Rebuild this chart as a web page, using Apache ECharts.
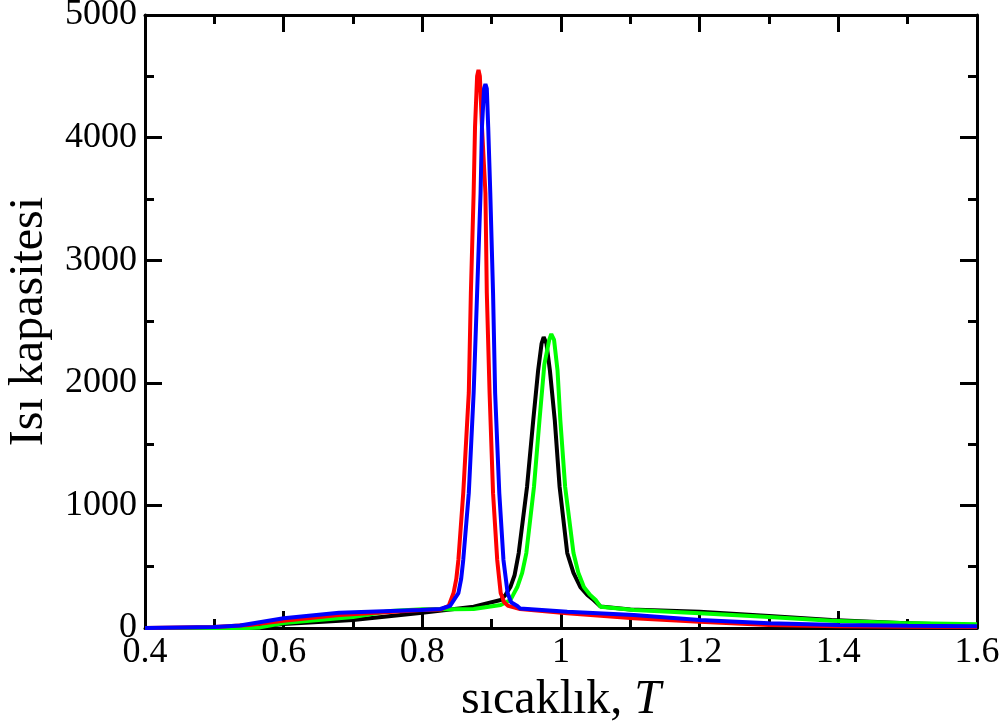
<!DOCTYPE html>
<html lang="tr">
<head>
    <meta charset="UTF-8">
    <title>Isı kapasitesi</title>
    <script src="https://cdn.jsdelivr.net/npm/echarts@6/dist/echarts.min.js"></script>
    <style>
        html, body { margin: 0; padding: 0; background: #fff; }
    </style>
</head>
<body>
<div id="chart" style="width: 1008px;height: 722px"></div>
<script type="text/javascript">
    // sıcaklık (T) ve ısı kapasitesi değerleri
    var blackT = [0.40, 0.50, 0.556, 0.60, 0.70, 0.80, 0.874, 0.913, 0.920, 0.927, 0.933, 0.939, 0.951, 0.960, 0.967, 0.972, 0.975, 0.979, 0.984, 0.991, 0.998, 1.009, 1.018, 1.028, 1.038, 1.047, 1.057, 1.10, 1.20, 1.30, 1.39, 1.49, 1.58, 1.60];
    var blackC = [0, 0, 5, 33, 65, 125, 174, 228, 270, 334, 430, 611, 1150, 1697, 2100, 2320, 2373, 2320, 2100, 1697, 1150, 611, 450, 334, 270, 228, 175, 150, 133, 98, 65, 40, 24, 20];

    var greenT = [0.40, 0.55, 0.566, 0.60, 0.70, 0.754, 0.80, 0.845, 0.874, 0.913, 0.927, 0.931, 0.937, 0.944, 0.950, 0.961, 0.969, 0.976, 0.983, 0.986, 0.990, 0.995, 0.999, 1.006, 1.018, 1.025, 1.033, 1.042, 1.050, 1.057, 1.105, 1.20, 1.30, 1.39, 1.49, 1.58, 1.60];
    var greenC = [0, 0, 5, 40, 90, 139, 152, 152, 155, 188, 228, 270, 334, 450, 611, 1150, 1697, 2150, 2350, 2398, 2350, 2100, 1697, 1150, 611, 450, 334, 270, 228, 174, 147, 120, 90, 60, 40, 33, 30];

    var redT = [0.40, 0.50, 0.55, 0.60, 0.68, 0.80, 0.826, 0.838, 0.845, 0.849, 0.852, 0.859, 0.867, 0.870, 0.874, 0.876, 0.879, 0.881, 0.883, 0.886, 0.891, 0.893, 0.897, 0.902, 0.908, 0.913, 0.918, 0.924, 0.941, 1.009, 1.105, 1.20, 1.30, 1.40, 1.50, 1.60];
    var redC = [0, 8, 25, 60, 106, 147, 150, 180, 285, 400, 555, 1100, 1917, 2732, 3548, 4087, 4500, 4551, 4500, 4087, 3548, 2732, 1917, 1100, 555, 285, 210, 180, 155, 120, 80, 51, 24, 15, 10, 8];

    var blueT = [0.40, 0.50, 0.537, 0.60, 0.68, 0.797, 0.826, 0.840, 0.852, 0.856, 0.859, 0.867, 0.874, 0.879, 0.884, 0.886, 0.889, 0.891, 0.893, 0.895, 0.898, 0.902, 0.905, 0.911, 0.917, 0.923, 0.928, 0.937, 0.941, 1.009, 1.105, 1.20, 1.30, 1.40, 1.50, 1.60];
    var blueC = [0, 8, 20, 80, 125, 147, 155, 180, 285, 400, 555, 1100, 1917, 2732, 3548, 4087, 4400, 4437, 4400, 4087, 3548, 2732, 1917, 1100, 555, 285, 210, 180, 160, 133, 106, 65, 38, 24, 18, 15];

    var xTicks = [0.4, 0.6, 0.8, 1, 1.2, 1.4, 1.6];
    var yTicks = [0, 1000, 2000, 3000, 4000, 5000];

    function pairs(xs, ys) {
        var out = [];
        for (var i = 0; i < xs.length; i++) out.push([xs[i], ys[i]]);
        return out;
    }

    var font = '"Liberation Serif", "DejaVu Serif", serif';
    var myChart = echarts.init(document.getElementById('chart'));

    function xAxisCfg(pos, labels) {
        return {
            type: 'value', position: pos,
            min: xTicks[0], max: xTicks[xTicks.length - 1], interval: 0.2,
            axisLine: { show: true, onZero: false, lineStyle: { color: '#000', width: 3 } },
            axisTick: { show: true, inside: true, length: 17, lineStyle: { color: '#000', width: 3 } },
            minorTick: { show: true, splitNumber: 2, length: 9, lineStyle: { color: '#000', width: 3 } },
            splitLine: { show: false },
            axisLabel: {
                show: labels, color: '#000', fontFamily: font, fontSize: 36, margin: 7,
                formatter: function (v) { return String(+v.toFixed(1)); }
            }
        };
    }
    function yAxisCfg(pos, labels) {
        return {
            type: 'value', position: pos,
            min: yTicks[0], max: yTicks[yTicks.length - 1], interval: 1000,
            axisLine: { show: true, onZero: false, lineStyle: { color: '#000', width: 3 } },
            axisTick: { show: true, inside: true, length: 17, lineStyle: { color: '#000', width: 3 } },
            minorTick: { show: true, splitNumber: 2, length: 9, lineStyle: { color: '#000', width: 3 } },
            splitLine: { show: false },
            axisLabel: {
                show: labels, color: '#000', fontFamily: font, fontSize: 36, margin: 8,
                formatter: function (v) { return String(v); }
            }
        };
    }

    var bottomX = xAxisCfg('bottom', true);
    bottomX.name = '{n|sıcaklık, }{t|T}';
    bottomX.nameLocation = 'middle';
    bottomX.nameGap = 38;
    bottomX.nameTextStyle = {
        rich: {
            n: { fontFamily: font, fontSize: 48, color: '#000' },
            t: { fontFamily: font, fontSize: 48, fontStyle: 'italic', color: '#000' }
        }
    };
    var leftY = yAxisCfg('left', true);
    leftY.name = 'Isı kapasitesi';
    leftY.nameLocation = 'middle';
    leftY.nameGap = 92;
    leftY.nameTextStyle = { fontFamily: font, fontSize: 48, color: '#000' };

    function line(name, color, xs, ys) {
        return {
            name: name, type: 'line', xAxisIndex: 0, yAxisIndex: 0,
            showSymbol: false, smooth: false, animation: false,
            lineStyle: { color: color, width: 4 },
            itemStyle: { color: color },
            data: pairs(xs, ys)
        };
    }

    var option = {
        animation: false,
        grid: { left: 145, right: 31, top: 15, bottom: 94, outerBoundsMode: 'none', containLabel: false },
        xAxis: [bottomX, xAxisCfg('top', false)],
        yAxis: [leftY, yAxisCfg('right', false)],
        series: [
            line('siyah', '#000000', blackT, blackC),
            line('yeşil', '#00ff00', greenT, greenC),
            line('kırmızı', '#ff0000', redT, redC),
            line('mavi', '#0000ff', blueT, blueC)
        ]
    };
    myChart.setOption(option);
</script>
</body>
</html>
